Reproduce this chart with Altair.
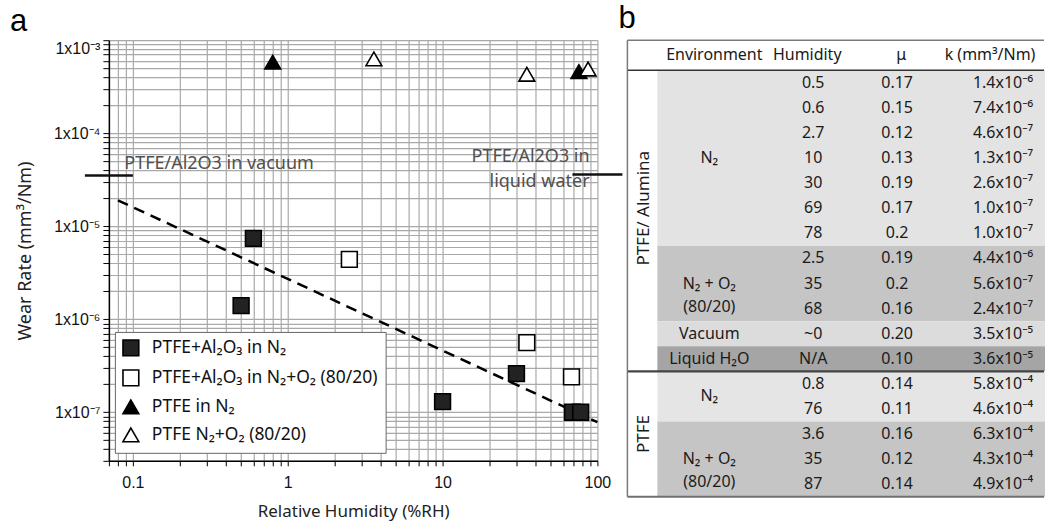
import altair as alt
import pandas as pd

# ---------------- panel a : data ----------------
series_names = [
    "PTFE+Al₂O₃ in N₂",
    "PTFE+Al₂O₃ in N₂+O₂ (80/20)",
    "PTFE in N₂",
    "PTFE N₂+O₂ (80/20)",
]
sq_n2_x = [0.5, 0.6, 2.7, 10, 30, 69, 78]
sq_n2_y = [1.4e-6, 7.4e-6, 4.6e-7, 1.3e-7, 2.6e-7, 1.0e-7, 1.0e-7]
sq_o2_x = [2.5, 35, 68]
sq_o2_y = [4.4e-6, 5.6e-7, 2.4e-7]
tri_n2_x = [0.8, 76]
tri_n2_y = [5.8e-4, 4.6e-4]
tri_o2_x = [3.6, 35, 87]
tri_o2_y = [6.3e-4, 4.3e-4, 4.9e-4]

fit_x = [0.08, 100]
fit_y = [1.9e-5, 7.8e-8]

ref_x = [0.049, 69]
ref_x2 = [0.1, 145]
ref_y = [3.5e-5, 3.6e-5]

ann_left_text = ["PTFE/Al2O3 in vacuum"]
ann_left_x = [0.088]
ann_left_y = [4.1e-5]
ann_right_text = ["PTFE/Al2O3 in\nliquid water"]
ann_right_x = [89]
ann_right_y = [4.9e-5]

x_tick_values = [0.07, 0.08, 0.09, 0.1, 0.2, 0.3, 0.4, 0.5, 0.6, 0.7, 0.8, 0.9,
                 1, 2, 3, 4, 5, 6, 7, 8, 9, 10, 20, 30, 40, 50, 60, 70, 80, 90, 100]
x_tick_labels = {0.1: "0.1", 1: "1", 10: "10", 100: "100"}
y_tick_values = [3e-8, 4e-8, 5e-8, 6e-8, 7e-8, 8e-8, 9e-8,
                 1e-7, 2e-7, 3e-7, 4e-7, 5e-7, 6e-7, 7e-7, 8e-7, 9e-7,
                 1e-6, 2e-6, 3e-6, 4e-6, 5e-6, 6e-6, 7e-6, 8e-6, 9e-6,
                 1e-5, 2e-5, 3e-5, 4e-5, 5e-5, 6e-5, 7e-5, 8e-5, 9e-5,
                 1e-4, 2e-4, 3e-4, 4e-4, 5e-4, 6e-4, 7e-4, 8e-4, 9e-4, 1e-3]
y_tick_labels = {1e-3: "1x10⁻³", 1e-4: "1x10⁻⁴", 1e-5: "1x10⁻⁵",
                 1e-6: "1x10⁻⁶", 1e-7: "1x10⁻⁷"}

# ---------------- panel b : table ----------------
tbl_humidity = ["0.5", "0.6", "2.7", "10", "30", "69", "78", "2.5", "35", "68",
                "~0", "N/A", "0.8", "76", "3.6", "35", "87"]
tbl_mu = ["0.17", "0.15", "0.12", "0.13", "0.19", "0.17", "0.2", "0.19", "0.2", "0.16",
          "0.20", "0.10", "0.14", "0.11", "0.16", "0.12", "0.14"]
tbl_k = ["1.4x10⁻⁶", "7.4x10⁻⁶", "4.6x10⁻⁷", "1.3x10⁻⁷", "2.6x10⁻⁷", "1.0x10⁻⁷",
         "1.0x10⁻⁷", "4.4x10⁻⁶", "5.6x10⁻⁷", "2.4x10⁻⁷", "3.5x10⁻⁵", "3.6x10⁻⁵",
         "5.8x10⁻⁴", "4.6x10⁻⁴", "6.3x10⁻⁴", "4.3x10⁻⁴", "4.9x10⁻⁴"]
env_labels = ["N₂", "N₂ + O₂\n(80/20)", "Vacuum", "Liquid H₂O", "N₂", "N₂ + O₂\n(80/20)"]
env_rows = [7, 3, 1, 1, 2, 3]
env_fill = ["#e3e3e3", "#c5c5c5", "#dcdcdc", "#a5a5a5", "#e5e5e5", "#c5c5c5"]
mat_labels = ["PTFE/ Alumina", "PTFE"]
mat_rows = [12, 5]
header_labels = ["Environment", "Humidity", "μ", "k (mm³/Nm)"]

# table layout (in table units: x ~ pixels, y ~ rows)
HEADER_H = 1.2
TBL_W = 418
ENV_LEFT = 30
COL_MAT = 17
COL_ENV = 82
COL_HUM = 186
COL_MU = 270
COL_K = 376
HEADER_X = [87, 180, 274, 363]

# ================= panel a =================
pts = pd.concat([
    pd.DataFrame({"x": sq_n2_x, "y": sq_n2_y, "s": series_names[0]}),
    pd.DataFrame({"x": sq_o2_x, "y": sq_o2_y, "s": series_names[1]}),
    pd.DataFrame({"x": tri_n2_x, "y": tri_n2_y, "s": series_names[2]}),
    pd.DataFrame({"x": tri_o2_x, "y": tri_o2_y, "s": series_names[3]}),
], ignore_index=True)

xsc = alt.Scale(type="log", domain=[0.07, 100], nice=False)
ysc = alt.Scale(type="log", domain=[3e-8, 1e-3], nice=False)

x_expr = " : ".join(f"datum.value == {repr(float(k))} ? '{v}'" for k, v in x_tick_labels.items()) + " : ''"
y_expr = " : ".join(f"datum.value == {repr(k)} ? '{v}'" for k, v in y_tick_labels.items()) + " : ''"

xaxis = alt.Axis(
    values=x_tick_values, labelExpr=x_expr, title="Relative Humidity (%RH)",
    grid=True, gridColor="#a9a9a9", gridWidth=1.2,
    domainColor="black", domainWidth=1.5, tickColor="black", tickSize=5, tickWidth=1,
    labelFont="Liberation Sans", labelFontSize=16, labelColor="#111", labelPadding=9,
    labelFlush=False, labelOverlap=False,
    titleFont="Noto Sans", titleFontSize=17, titleFontWeight="normal", titleColor="#222",
    titlePadding=13,
)
yaxis = alt.Axis(
    values=y_tick_values, labelExpr=y_expr, title="Wear Rate (mm³/Nm)",
    grid=True, gridColor="#a9a9a9", gridWidth=1.2,
    domainColor="black", domainWidth=1.5, tickColor="black", tickSize=6, tickWidth=1,
    labelFont="Liberation Sans", labelFontSize=16, labelColor="#111", labelPadding=3,
    labelFlush=True, labelOverlap=False,
    titleFont="Noto Sans", titleFontSize=18, titleFontWeight="normal", titleColor="#222",
    titlePadding=19,
)

X = alt.X("x:Q", scale=xsc, axis=xaxis)
Y = alt.Y("y:Q", scale=ysc, axis=yaxis)

ref_df = pd.DataFrame({"x": ref_x, "x2": ref_x2, "y": ref_y})
refs = alt.Chart(ref_df).mark_rule(color="#111", strokeWidth=2.5).encode(
    x=X, x2="x2:Q", y=Y)

annL = alt.Chart(pd.DataFrame({"x": ann_left_x, "y": ann_left_y, "t": ann_left_text})).mark_text(
    align="left", baseline="alphabetic", font="Noto Sans", fontSize=18, color="#505050"
).encode(x=X, y=Y, text="t:N")
annR = alt.Chart(pd.DataFrame({"x": ann_right_x, "y": ann_right_y, "t": ann_right_text})).mark_text(
    align="right", baseline="alphabetic", font="Noto Sans", fontSize=18, color="#505050",
    lineBreak="\n", lineHeight=25
).encode(x=X, y=Y, text="t:N")

fit = alt.Chart(pd.DataFrame({"x": fit_x, "y": fit_y})).mark_line(
    color="black", strokeWidth=2.5, strokeDash=[11, 7]).encode(x=X, y=Y)

leg = alt.Legend(
    orient="none", legendX=6, legendY=292, title=None,
    fillColor="white", strokeColor="#666", padding=7,
    labelFont="Noto Sans", labelFontSize=17.5, labelColor="#111", labelLimit=400,
    labelOffset=12, rowPadding=6, symbolStrokeColor="black", symbolStrokeWidth=1.6,
)
points = alt.Chart(pts).mark_point(filled=True, opacity=1, strokeWidth=1.6).encode(
    x=X, y=Y,
    shape=alt.Shape("s:N", scale=alt.Scale(domain=series_names,
                    range=["square", "square", "triangle-up", "triangle-up"]), legend=leg),
    fill=alt.Fill("s:N", scale=alt.Scale(domain=series_names,
                  range=["#222222", "white", "black", "white"]), legend=leg),
    stroke=alt.Stroke("s:N", scale=alt.Scale(domain=series_names,
                      range=["black", "black", "black", "black"]), legend=leg),
    size=alt.Size("s:O", scale=alt.Scale(domain=series_names,
                  range=[250, 250, 820, 820]), legend=leg),
)

panel_a = alt.layer(refs, annL, annR, fit, points).properties(
    width=489, height=421,
    title=alt.TitleParams("a", anchor="start", frame="group", dx=-99, offset=-26,
                          baseline="alphabetic", fontSize=31, font="Liberation Sans",
                          fontWeight="normal", color="black"),
)

# ================= panel b =================
n_rows = len(tbl_humidity)
total_h = HEADER_H + n_rows

# backgrounds
bg_rows = []
start = 0
for lab, n, col in zip(env_labels, env_rows, env_fill):
    bg_rows.append({"x": ENV_LEFT, "x2": TBL_W, "y": HEADER_H + start, "y2": HEADER_H + start + n, "f": col})
    start += n
bg_df = pd.DataFrame(bg_rows)

# cell texts
cells = []
for i, t in enumerate(header_labels):
    cells.append({"x": HEADER_X[i], "y": HEADER_H / 2, "t": t})
for i in range(n_rows):
    yc = HEADER_H + i + 0.5
    cells.append({"x": COL_HUM, "y": yc, "t": tbl_humidity[i]})
    cells.append({"x": COL_MU, "y": yc, "t": tbl_mu[i]})
    cells.append({"x": COL_K, "y": yc, "t": tbl_k[i]})
cell_df = pd.DataFrame(cells)

env_txt = []
start = 0
for lab, n in zip(env_labels, env_rows):
    env_txt.append({"x": COL_ENV, "y": HEADER_H + start + n / 2, "t": lab})
    start += n
env_df = pd.DataFrame(env_txt)

mat_txt = []
start = 0
for lab, n in zip(mat_labels, mat_rows):
    off = -0.5 if n > 6 else 0
    mat_txt.append({"x": COL_MAT, "y": HEADER_H + start + n / 2 + off, "t": lab})
    start += n
mat_df = pd.DataFrame(mat_txt)

sep_y = HEADER_H + mat_rows[0]
lines_df = pd.DataFrame([
    {"x": 0, "x2": TBL_W - 1, "y": 0, "y2": 0, "c": "#7a7a7a", "w": 1.5},
    {"x": 0, "x2": TBL_W - 1, "y": HEADER_H, "y2": HEADER_H, "c": "#333333", "w": 1.5},
    {"x": 0, "x2": TBL_W - 1, "y": sep_y, "y2": sep_y, "c": "#444444", "w": 2.2},
    {"x": 0, "x2": TBL_W - 1, "y": total_h, "y2": total_h, "c": "#707070", "w": 2},
    {"x": 0, "x2": 0, "y": 0, "y2": total_h, "c": "#7a7a7a", "w": 1.5},
])

txs = alt.Scale(domain=[0, TBL_W], nice=False, zero=False)
tys = alt.Scale(domain=[0, total_h], nice=False, zero=False, reverse=True)
TX = alt.X("x:Q", scale=txs, axis=None)
TY = alt.Y("y:Q", scale=tys, axis=None)

bg = alt.Chart(bg_df).mark_rect().encode(
    x=TX, x2="x2:Q", y=TY, y2="y2:Q", fill=alt.Fill("f:N", scale=None))
tlines = alt.Chart(lines_df).mark_rule().encode(
    x=TX, x2="x2:Q", y=TY, y2="y2:Q",
    color=alt.Color("c:N", scale=None), strokeWidth=alt.StrokeWidth("w:Q", scale=None))
ttext = alt.Chart(cell_df).mark_text(
    font="Noto Sans", fontSize=16, color="#1a1a1a", align="center", baseline="middle"
).encode(x=TX, y=TY, text="t:N")
tenv = alt.Chart(env_df).mark_text(
    font="Noto Sans", fontSize=16, color="#1a1a1a", align="center", baseline="middle",
    lineBreak="\n", lineHeight=23
).encode(x=TX, y=TY, text="t:N")
tmat = alt.Chart(mat_df).mark_text(
    font="Noto Sans", fontSize=17, color="#1a1a1a", align="center", baseline="middle", angle=270
).encode(x=TX, y=TY, text="t:N")

panel_b = alt.layer(bg, tlines, ttext, tenv, tmat).properties(
    width=TBL_W, height=457,
    title=alt.TitleParams("b", anchor="start", frame="group", dx=-9, offset=-20,
                          baseline="alphabetic", fontSize=31, font="Liberation Sans",
                          fontWeight="normal", color="black"),
)

chart = alt.hconcat(panel_a, panel_b, spacing=30, bounds="flush").resolve_scale(
    x="independent", y="independent", fill="independent", color="independent",
    shape="independent", size="independent", strokeWidth="independent",
    stroke="independent",
).properties(
    padding={"left": 10, "top": 3, "right": 0, "bottom": 2},
).configure(font="Noto Sans").configure_view(stroke=None)

chart.save("out.html", embed_options={"renderer": "svg", "actions": False})
